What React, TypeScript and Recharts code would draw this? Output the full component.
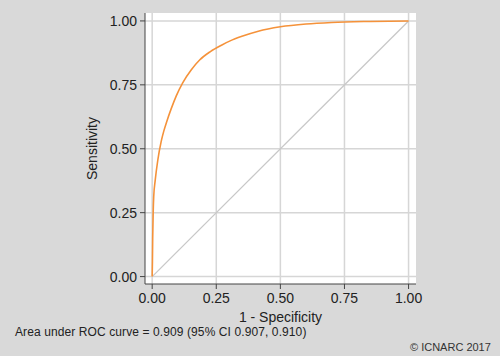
import { LineChart, Line, XAxis, YAxis, CartesianGrid, Label } from 'recharts';

// ROC curve
const FPR = [0, 0.001, 0.002, 0.004, 0.006, 0.012, 0.022, 0.035, 0.045, 0.057, 0.074, 0.094, 0.119, 0.152, 0.185, 0.227, 0.272, 0.304, 0.35, 0.414, 0.5, 0.6, 0.7, 0.85, 1];
const TPR = [0, 0.06, 0.15, 0.254, 0.313, 0.378, 0.456, 0.528, 0.568, 0.607, 0.656, 0.707, 0.758, 0.808, 0.847, 0.88, 0.906, 0.922, 0.94, 0.96, 0.977, 0.988, 0.994, 0.998, 1];
const DIAGONAL = [0, 1];
const TICKS = [0, 0.25, 0.5, 0.75, 1];

const rocData = FPR.map((x, i) => ({ fpr: x, tpr: TPR[i] }));
const refData = DIAGONAL.map((v) => ({ fpr: v, ref: v }));

const FONT = '"Liberation Sans", Arial, sans-serif';
const fmt = (v: number) => v.toFixed(2);

export default function App() {
  return (
    <div
      style={{
        position: 'fixed',
        left: 0,
        top: 0,
        width: 500,
        height: 356,
        background: '#d9d9d9',
        fontFamily: FONT,
      }}
    >
      <LineChart width={500} height={356} margin={{ top: 13, right: 84, bottom: 42, left: 85 }}>
        <CartesianGrid fill="#ffffff" stroke="#d6d6d6" strokeWidth={1.5} horizontalValues={TICKS} verticalValues={TICKS} />
        <XAxis
          type="number"
          dataKey="fpr"
          domain={[-0.028, 1.029]}
          ticks={TICKS}
          allowDataOverflow
          tickFormatter={fmt}
          height={30}
          tickSize={5}
          tickMargin={4}
          stroke="#444"
          tick={{ fill: '#222', fontSize: 14, fontFamily: FONT }}
        >
          <Label value="1 - Specificity" position="bottom" offset={-2} fill="#222" fontSize={14} fontFamily={FONT} />
        </XAxis>
        <YAxis
          type="number"
          domain={[-0.029, 1.031]}
          ticks={TICKS}
          allowDataOverflow
          tickFormatter={fmt}
          width={60}
          tickSize={5}
          tickMargin={3}
          stroke="#444"
          tick={{ fill: '#222', fontSize: 14, fontFamily: FONT }}
        >
          <Label value="Sensitivity" angle={-90} position="insideLeft" offset={7} fill="#222" fontSize={14} fontFamily={FONT} style={{ textAnchor: 'middle' }} />
        </YAxis>
        <Line
          data={refData}
          dataKey="ref"
          type="linear"
          stroke="#c8c8c8"
          strokeWidth={1.3}
          dot={false}
          isAnimationActive={false}
        />
        <Line
          data={rocData}
          dataKey="tpr"
          type="monotone"
          stroke="#f5923a"
          strokeWidth={1.6}
          dot={false}
          isAnimationActive={false}
        />
      </LineChart>
      <div style={{ position: 'absolute', left: 15, top: 325, fontSize: 12, letterSpacing: 0.1, color: '#222' }}>
        Area under ROC curve = 0.909 (95% CI 0.907, 0.910)
      </div>
      <div style={{ position: 'absolute', left: 410, top: 341, fontSize: 11, color: '#333' }}>
        © ICNARC 2017
      </div>
    </div>
  );
}
